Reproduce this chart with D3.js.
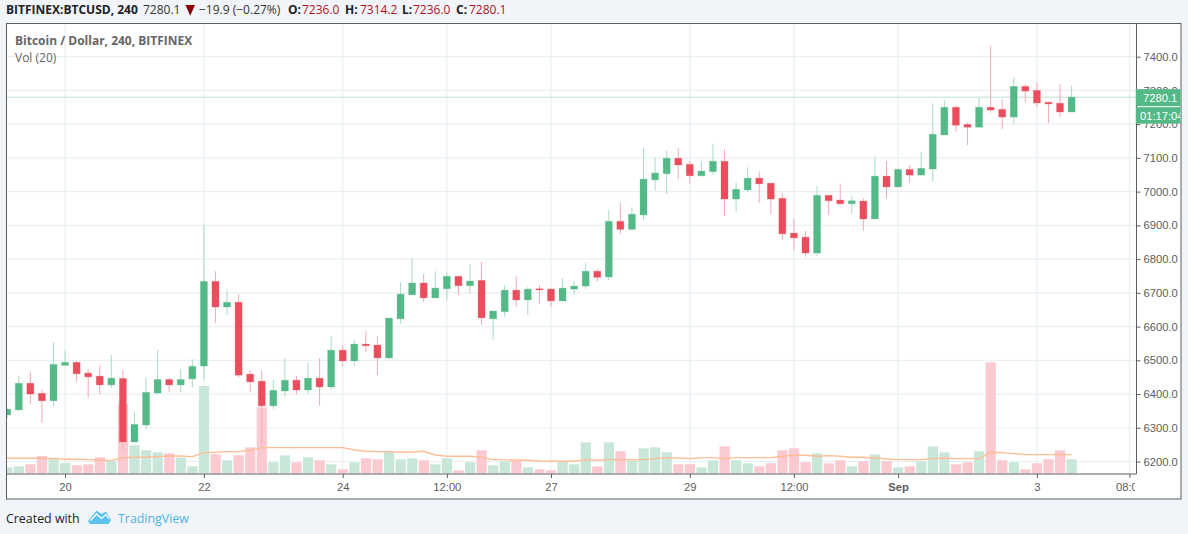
<!DOCTYPE html>
<html>
<head>
<meta charset="utf-8">
<title>BTCUSD</title>
<script src="https://cdn.jsdelivr.net/npm/d3@7"></script>
<style>
    html, body { margin: 0; padding: 0; background: #f1f4f8; overflow: hidden; }
    svg { display: block; }
    text { font-family: "Open Sans", sans-serif; }
    .axis text { font-family: "Liberation Sans", Arial, sans-serif; font-size: 11.2px; fill: #5d5d5d; }
    .axis .domain { display: none; }
    .axis line { stroke: #5d5d5d; }
</style>
</head>
<body>
<div id="chart"></div>
<script>
// 4h bars, first one is cut by the left edge of the pane
const opens = [6338,6353,6432,6402,6380,6485,6494,6462,6453,6427,6446,6258,6308,6403,6443,6427,6445,6483,6734,6658,6672,6459,6438,6365,6409,6441,6412,6447,6421,6530,6498,6548,6545,6507,6623,6694,6729,6685,6712,6749,6721,6737,6623,6644,6708,6679,6712,6711,6676,6711,6720,6764,6747,6912,6888,6931,7035,7053,7099,7081,7047,7059,7090,6978,7005,7040,7025,6980,6877,6865,6818,6989,6975,6964,6972,6919,7046,7014,7066,7049,7067,7168,7250,7199,7191,7250,7244,7221,7312,7300,7265,7262,7236];
const highs = [6358,6454,6467,6412,6553,6528,6496,6473,6485,6516,6471,6348,6449,6530,6449,6473,6503,6901,6764,6710,6696,6471,6470,6441,6506,6454,6495,6506,6571,6545,6560,6586,6571,6625,6732,6804,6756,6764,6761,6749,6786,6791,6649,6723,6749,6717,6723,6714,6743,6734,6788,6770,6946,6966,6954,7130,7100,7121,7130,7090,7090,7142,7124,7028,7072,7060,7025,6995,6921,6883,7017,6989,7023,6989,6980,7103,7090,7069,7078,7119,7262,7271,7256,7205,7279,7432,7274,7339,7318,7324,7265,7319,7314.2];
const lows = [6330,6351,6371,6315,6363,6484,6436,6389,6400,6419,6234,6257,6296,6400,6406,6406,6419,6442,6611,6634,6449,6406,6254,6356,6392,6398,6401,6365,6413,6483,6483,6525,6457,6503,6608,6694,6673,6685,6679,6694,6697,6605,6561,6629,6658,6635,6667,6658,6676,6694,6712,6733,6738,6875,6888,6916,7002,6993,7038,7023,7044,7050,6928,6940,6999,6967,6934,6857,6827,6807,6809,6931,6961,6934,6884,6919,6981,7014,7025,7049,7032,7168,7178,7138,7191,7234,7186,7200,7263,7251,7203,7221,7236];
const closes = [6355,6432,6400,6380,6488,6494,6460,6451,6427,6447,6258,6310,6405,6443,6427,6443,6482,6734,6658,6672,6456,6436,6365,6411,6441,6412,6447,6421,6530,6498,6548,6543,6507,6625,6696,6729,6685,6714,6749,6721,6735,6626,6646,6708,6679,6711,6709,6676,6714,6720,6764,6746,6912,6888,6933,7037,7055,7099,7079,7047,7061,7090,6978,7007,7040,7023,6978,6875,6863,6818,6989,6973,6964,6973,6919,7046,7014,7066,7049,7069,7170,7250,7197,7191,7250,7242,7221,7312,7298,7263,7260,7236,7280.1];
const volumes = [6,7,9,17.3,15.7,10.3,8,9,16,12,69,28,23,21,20,15.7,7,87.3,19,13,18,26,66,11,18,11,16,13,9,4,11,15,14,21.3,14,15,13,9,15,3,11,23,8,12,13,6,4,3,12,9,31,7,31,22,13,25,26,21,9,9,6,13,27,13,10,7,10,23,25,11,20,10,13,7,12,19,12,6,7,12,27,21,9,11,22,111,13,11,4,10,14,23,14];
const volumeMa = [15,15,15,15,14.7,14,14,13.7,13.3,12.7,15.7,16,16,16.7,17.3,17.3,16.7,20.7,21,21.7,21.7,23,25.7,25.7,25.7,25.7,25.7,25.7,25.7,25.7,23.3,22,21.7,21.7,21,21,22,18.3,17,17,17,16,13.7,13.7,13,13,12.3,12,12,12,13.7,13,13.7,13.7,13.7,13.7,14.7,15.7,15.3,14.7,15.7,15.7,14.7,15.7,15.7,15.7,15.7,17,18,18,17,17.7,17,16,16,15.3,14.3,13.7,13.7,13.7,14.7,15.3,14.7,14.7,14.7,21,20.7,19.7,18.7,18.7,18.7,18.7,18.7];

const priceTicks = [6200,6300,6400,6500,6600,6700,6800,6900,7000,7100,7200,7300,7400];
const timeTickBars = [5,17,29,38,47,59,68,77,89,97];
const timeTickLabels = ["20","22","24","12:00","27","29","12:00","Sep","3","08:00"];

const lastPrice = 7280.1;
const countdown = "01:17:04";

const upColor = "#53b987", downColor = "#eb4d5c";
const upWick = "#a9dcc3", downWick = "#f7a9b4";
const upVol = "#c9e7d9", downVol = "#fbc9d0";
const grid = "#e8f0f4", frame = "#5d5d5d";

const width = 1188, height = 534;
const pane = { left: 6.5, right: 1136.5, top: 23.5, bottom: 474, outerRight: 1181, outerBottom: 499 };

const svg = d3.select("#chart").append("svg").attr("width", width).attr("height", height);

const x = d3.scaleLinear().domain([0, 92]).range([7.2, 1071.6]);
const y = d3.scaleLinear().domain([6200, 7400]).range([461.5, 56.7]);
const yVol = d3.scaleLinear().domain([0, 111]).range([473.3, 362.3]);

const defs = svg.append("defs");
defs.append("clipPath").attr("id", "paneClip").append("rect")
    .attr("x", pane.left).attr("y", pane.top)
    .attr("width", pane.right - pane.left).attr("height", pane.bottom - pane.top);
defs.append("clipPath").attr("id", "timeClip").append("rect")
    .attr("x", pane.left).attr("y", pane.bottom)
    .attr("width", pane.right - pane.left - 1.5).attr("height", pane.outerBottom - pane.bottom);
defs.append("clipPath").attr("id", "labelClip").append("rect")
    .attr("x", pane.right - 1).attr("y", pane.top)
    .attr("width", pane.outerRight - pane.right + 0.5).attr("height", pane.bottom - pane.top);

svg.append("rect")
    .attr("x", pane.left).attr("y", pane.top)
    .attr("width", pane.outerRight - pane.left).attr("height", pane.outerBottom - pane.top)
    .attr("fill", "#fff");

const plot = svg.append("g").attr("clip-path", "url(#paneClip)");

// grid
plot.selectAll(".hgrid").data(priceTicks).enter().append("line")
    .attr("x1", pane.left).attr("x2", pane.right)
    .attr("y1", d => y(d)).attr("y2", d => y(d))
    .attr("stroke", grid).attr("stroke-width", 1.2);
plot.selectAll(".vgrid").data(timeTickBars).enter().append("line")
    .attr("x1", d => x(d)).attr("x2", d => x(d))
    .attr("y1", pane.top).attr("y2", pane.bottom)
    .attr("stroke", grid).attr("stroke-width", 1.2);

const bars = d3.range(opens.length);
const isUp = i => closes[i] >= opens[i];

// volume
plot.selectAll(".vol").data(bars).enter().append("rect")
    .attr("x", i => x(i) - 5)
    .attr("width", 10.2)
    .attr("y", i => yVol(volumes[i]))
    .attr("height", i => yVol(0) - yVol(volumes[i]))
    .attr("fill", i => isUp(i) ? upVol : downVol);

plot.append("path")
    .attr("d", d3.line().x((d, i) => x(i)).y(d => yVol(d))(volumeMa))
    .attr("fill", "none")
    .attr("stroke", "#ffbd94")
    .attr("stroke-width", 1.4);

// last price line
plot.append("line")
    .attr("x1", pane.left).attr("x2", pane.right)
    .attr("y1", y(lastPrice)).attr("y2", y(lastPrice))
    .attr("stroke", "#7fc5a3")
    .attr("stroke-dasharray", "1 1");

// candles
plot.selectAll(".wick").data(bars).enter().append("line")
    .attr("x1", i => x(i)).attr("x2", i => x(i))
    .attr("y1", i => y(highs[i])).attr("y2", i => y(lows[i]))
    .attr("stroke", i => isUp(i) ? upWick : downWick);
plot.selectAll(".body").data(bars).enter().append("rect")
    .attr("x", i => x(i) - 3.5)
    .attr("width", 7)
    .attr("y", i => y(Math.max(opens[i], closes[i])))
    .attr("height", i => Math.max(1.2, Math.abs(y(opens[i]) - y(closes[i]))))
    .attr("fill", i => isUp(i) ? upColor : downColor)
    .attr("stroke", i => isUp(i) ? upColor : downColor)
    .attr("stroke-opacity", 0.25);

// axes
const priceAxis = svg.append("g")
    .attr("class", "axis")
    .attr("transform", `translate(${pane.right},0)`)
    .call(d3.axisRight(y).tickValues(priceTicks).tickFormat(d3.format(".1f")).tickSize(4).tickPadding(3));

const timeAxis = svg.append("g")
    .attr("class", "axis")
    .attr("clip-path", "url(#timeClip)")
    .append("g")
    .attr("transform", `translate(0,${pane.bottom})`)
    .call(d3.axisBottom(x).tickValues(timeTickBars).tickFormat((d, i) => timeTickLabels[i]).tickSize(4).tickPadding(5));
timeAxis.selectAll("text")
    .filter((d, i) => timeTickLabels[i] === "Sep")
    .style("font-weight", "bold");

// frame lines on top of the pane
svg.append("rect")
    .attr("x", pane.left).attr("y", pane.top)
    .attr("width", pane.outerRight - pane.left).attr("height", pane.outerBottom - pane.top)
    .attr("fill", "none").attr("stroke", frame);
svg.append("line")
    .attr("x1", pane.left).attr("x2", pane.right)
    .attr("y1", pane.bottom).attr("y2", pane.bottom)
    .attr("stroke", frame);
svg.append("line")
    .attr("x1", pane.right).attr("x2", pane.right)
    .attr("y1", pane.top).attr("y2", pane.bottom)
    .attr("stroke", frame);

// last price labels
const labels = svg.append("g").attr("clip-path", "url(#labelClip)");
const labelX = pane.right - 1;
labels.append("rect").attr("x", labelX).attr("y", y(lastPrice) - 8)
    .attr("width", pane.outerRight - labelX).attr("height", 17).attr("fill", upColor);
labels.append("rect").attr("x", labelX).attr("y", y(lastPrice) + 10)
    .attr("width", pane.outerRight - labelX).attr("height", 16.5).attr("fill", upColor);
labels.append("text").attr("x", 1143).attr("y", y(lastPrice) + 4.5)
    .style("font-family", "'Liberation Sans', Arial, sans-serif").style("font-size", "11.2px")
    .attr("fill", "#fff").text(d3.format(".1f")(lastPrice));
labels.append("text").attr("x", 1140).attr("y", y(lastPrice) + 22.5)
    .style("font-family", "'Liberation Sans', Arial, sans-serif").style("font-size", "11.2px")
    .attr("fill", "#fff").text(countdown);

// header line
const headerRed = "#b0141c";
const header = [
    [6, "BITFINEX:BTCUSD, 240", true, "#222"],
    [143, "7280.1", false, "#333"],
    [199, "−19.9 (−0.27%)", false, "#333"],
    [288, "O:", true, "#222"],
    [302, "7236.0", false, headerRed],
    [345, "H:", true, "#222"],
    [360, "7314.2", false, headerRed],
    [402, "L:", true, "#222"],
    [413, "7236.0", false, headerRed],
    [456, "C:", true, "#222"],
    [469, "7280.1", false, headerRed]
];
svg.selectAll(".hdr").data(header).enter().append("text")
    .attr("x", d => d[0]).attr("y", 14)
    .style("font-size", "12px")
    .style("font-weight", d => d[2] ? "bold" : "normal")
    .attr("fill", d => d[3])
    .text(d => d[1]);
svg.append("path").attr("d", "M185.5,5H195L190.2,15.7Z").attr("fill", "#8b0000");

// pane legend
svg.append("text").attr("x", 15).attr("y", 45)
    .style("font-size", "12px").style("font-weight", "bold").attr("fill", "#666")
    .text("Bitcoin / Dollar, 240, BITFINEX");
svg.append("text").attr("x", 15).attr("y", 62)
    .style("font-size", "12px").attr("fill", "#666")
    .text("Vol (20)");

// footer
svg.append("text").attr("x", 6).attr("y", 523)
    .style("font-size", "12.4px").attr("fill", "#222")
    .text("Created with");
svg.append("path")
    .attr("d", "M88,521 L96.5,510.5 L101.5,514 L106,511.5 L111,520 L108.5,524 L90,524 Z")
    .attr("fill", "#5cc1ec");
svg.append("path")
    .attr("d", "M90.5,520.5 L96.5,514 L101.5,518.5 L106,514.5 L109,519")
    .attr("fill", "none").attr("stroke", "#fff").attr("stroke-width", 1.3);
svg.append("text").attr("x", 118).attr("y", 523)
    .style("font-size", "12.4px").attr("fill", "#4fb3e8")
    .text("TradingView");
</script>
</body>
</html>
